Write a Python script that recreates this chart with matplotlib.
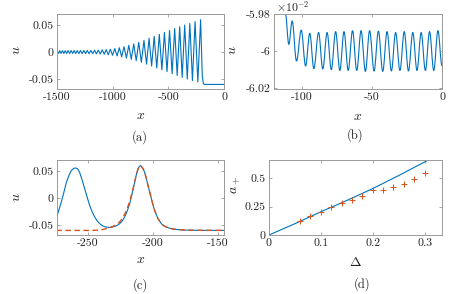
import matplotlib as mpl
mpl.use('Agg')
import matplotlib.pyplot as plt
from matplotlib.path import Path
from matplotlib.patches import PathPatch
import numpy as np

# (a) dispersive wave train: peak crests and troughs (left to right)
a_peak_x = [-1500, -1476, -1451, -1426, -1400, -1373, -1346, -1318, -1289, -1259, -1228, -1196,
            -1163, -1129, -1094, -1058, -1021, -981, -940, -898, -855, -811, -766, -719, -673,
            -627, -581, -535, -489, -443, -398, -353, -307, -260, -210]
a_peak_u = [0.0025, 0.0025, 0.0026, 0.0026, 0.0027, 0.0027, 0.0028, 0.0028, 0.0029, 0.0029, 0.0030, 0.0030,
            0.0033, 0.0036, 0.0040, 0.0045, 0.0052, 0.0065, 0.0080, 0.0100, 0.0125, 0.0150, 0.0180, 0.0215, 0.0255,
            0.0290, 0.0330, 0.0365, 0.0400, 0.0435, 0.0470, 0.0500, 0.0530, 0.0565, 0.0600]
a_trough_u = [-0.0025, -0.0025, -0.0026, -0.0026, -0.0027, -0.0027, -0.0028, -0.0028, -0.0029, -0.0029, -0.0030,
              -0.0031, -0.0033, -0.0037, -0.0042, -0.0050, -0.0060, -0.0072, -0.0090, -0.0110, -0.0135, -0.0160, -0.0190,
              -0.0225, -0.0260, -0.0295, -0.0330, -0.0365, -0.0400, -0.0435, -0.0470, -0.0500, -0.0530, -0.0555]
a_tail_x = [-195, -185, -175, 0]
a_tail_u = [-0.045, -0.0585, -0.0600, -0.0600]

# (b) zoom of the tail, u in units of 1e-2 (successive crests and troughs)
b_x = [-113.0, -112.0, -109.6, -107.2, -104.1, -100.7, -97.6, -94.6, -91.7, -88.3, -85.3, -82.2, -79.2,
       -76.1, -73.1, -70.1, -67.1, -64.0, -61.0, -57.9, -54.8, -51.8, -48.6, -45.5, -42.4, -39.3,
       -36.2, -33.2, -30.1, -27.0, -24.0, -20.9, -17.9, -14.9, -11.9, -8.9, -5.9, -2.9, 0.0]
b_u = [-5.970, -5.980, -5.9964, -5.9838, -6.0054, -5.9887, -6.0081, -5.9904, -6.0095, -5.9900, -6.0097,
       -5.9900, -6.0100, -5.9895, -6.0105, -5.9895, -6.0105, -5.9890, -6.0105, -5.9890, -6.0110, -5.9890,
       -6.0108, -5.9892, -6.0110, -5.9895, -6.0108, -5.9900, -6.0105, -5.9895, -6.0108, -5.9900, -6.0105,
       -5.9900, -6.0105, -5.9895, -6.0105, -5.9890, -6.0080]

# (c) two leading solitons (numerics) and the fitted soliton (dashed)
c_x = [-274.3, -272.5, -270.5, -268.5, -266.6, -264.5, -262.8, -261.2, -259.7, -258.0, -256.4, -254.5,
       -252.5, -250.5, -248.7, -246.7, -244.8, -243.0, -241.0, -239.0, -237.2, -235.2, -233.3, -231.4,
       -229.5, -227.5, -225.6, -223.7, -221.8, -219.8, -217.9, -216.0, -214.1, -212.8, -211.5, -210.5,
       -209.7, -208.9, -207.6, -206.4, -205.1, -203.8, -202.5, -201.2, -200.0, -198.7, -197.4, -196.2,
       -193.6, -191.6, -189.7, -187.7, -185.8, -183.3, -180.8, -177.5, -174.3, -165.0, -145.0]
c_u = [-0.0370, -0.0230, -0.0074, 0.0110, 0.0296, 0.0430, 0.0513, 0.0550, 0.0563, 0.0548, 0.0480, 0.0340,
       0.0174, 0.0010, -0.0135, -0.0260, -0.0350, -0.0420, -0.0474, -0.0510, -0.0530, -0.0540, -0.0543, -0.0538,
       -0.0524, -0.0505, -0.0474, -0.0425, -0.0350, -0.0240, -0.0104, 0.0090, 0.0296, 0.0440, 0.0544, 0.0590,
       0.0605, 0.0590, 0.0545, 0.0480, 0.0365, 0.0235, 0.0110, -0.0011, -0.0125, -0.0228, -0.0310, -0.0380,
       -0.0474, -0.0515, -0.0537, -0.0555, -0.0567, -0.0578, -0.0585, -0.0590, -0.0594, -0.0598, -0.0600]
c_fit_x = [-274.3, -250.0, -244.0, -240.0, -236.0, -232.0, -229.5, -227.5, -225.6, -223.7, -221.8, -219.8,
           -217.9, -216.0, -214.1, -212.8, -211.5, -210.5, -209.7, -208.9, -207.6, -206.4, -205.1, -203.8,
           -202.5, -201.2, -200.0, -198.7, -197.4, -196.2, -193.6, -191.6, -189.7, -187.7, -185.8, -183.3,
           -180.8, -177.5, -174.3, -165.0, -145.0]
c_fit_u = [-0.0600, -0.0600, -0.0597, -0.0590, -0.0567, -0.0537, -0.0510, -0.0480, -0.0440, -0.0380, -0.0300,
           -0.0190, -0.0060, 0.0110, 0.0300, 0.0440, 0.0544, 0.0590, 0.0605, 0.0590, 0.0545, 0.0480, 0.0365,
           0.0235, 0.0110, -0.0011, -0.0125, -0.0228, -0.0310, -0.0380, -0.0474, -0.0515, -0.0537, -0.0555,
           -0.0567, -0.0578, -0.0585, -0.0590, -0.0594, -0.0598, -0.0600]

# (d) leading amplitude a+ versus Delta: theory (line) and numerics (+)
d_theory_delta = [0.0, 0.05, 0.10, 0.15, 0.20, 0.25, 0.30, 0.32]
d_theory_a = [0.0, 0.100, 0.205, 0.305, 0.410, 0.525, 0.645, 0.695]
d_num_delta = [0.06, 0.08, 0.10, 0.12, 0.14, 0.16, 0.18, 0.20, 0.22, 0.24, 0.26, 0.28, 0.30]
d_num_a = [0.120, 0.164, 0.203, 0.247, 0.285, 0.312, 0.344, 0.400, 0.400, 0.420, 0.450, 0.497, 0.544]

# tick positions and labels
a_xticks, a_xlabels = [-1500, -1000, -500, 0], ['-1500', '-1000', '-500', '0']
u_ticks, u_labels = [-0.05, 0, 0.05], ['-0.05', '0', '0.05']
b_xticks, b_xlabels = [-100, -50, 0], ['-100', '-50', '0']
b_yticks, b_ylabels = [-6.02, -6.0, -5.98], ['-6.02', '-6', '-5.98']
c_xticks, c_xlabels = [-250, -200, -150], ['-250', '-200', '-150']
d_xticks, d_xlabels = [0, 0.1, 0.2, 0.3], ['0', '0.1', '0.2', '0.3']
d_yticks, d_ylabels = [0, 0.25, 0.5], ['0', '0.25', '0.5']

blue = '#0072BD'
orange = '#D95319'

plt.rcParams['font.family'] = 'serif'
plt.rcParams['font.serif'] = ['cmr10']
plt.rcParams['mathtext.fontset'] = 'cm'
plt.rcParams['axes.unicode_minus'] = False


# MATLAB-like box axes: gray frame, inward ticks on all four sides
def style_axes(ax, xticks, xlabels, yticks, ylabels):
	for s in ax.spines.values():
		s.set_color('#9a9a9a')
		s.set_linewidth(0.7)
	ax.tick_params(direction='in', length=2.2, width=0.6, color='#9a9a9a', labelcolor='#222222',
				   top=True, right=True, labelsize=8.5, pad=2.5)
	ax.set_xticks(xticks)
	ax.set_xticklabels(xlabels)
	ax.set_yticks(yticks)
	ax.set_yticklabels(ylabels)


def put_labels(ax, xl, yl, xpos, ypos):
	ax.set_xlabel(xl, fontsize=10, color='#222222')
	ax.set_ylabel(yl, fontsize=10, color='#222222')
	ax.xaxis.set_label_coords(*xpos)
	ax.yaxis.set_label_coords(*ypos)
	ax.xaxis.label.set_va('center')
	ax.yaxis.label.set_va('center')


# join successive extrema by cubic Bezier pieces with flat tangents (rounded crests)
def smooth_extrema_path(xs, us, k=0.36):
	verts = [(xs[0], us[0])]
	codes = [Path.MOVETO]
	for i in range(1, len(xs)):
		dx = xs[i] - xs[i - 1]
		verts += [(xs[i - 1] + k * dx, us[i - 1]), (xs[i] - k * dx, us[i]), (xs[i], us[i])]
		codes += [Path.CURVE4] * 3
	return Path(verts, codes)


W, H = 475.0, 294.0
fig = plt.figure(figsize=(4.75, 2.94), dpi=100)


def px_axes(left, top, right, bottom):
	return fig.add_axes([left / W, 1 - bottom / H, (right - left) / W, (bottom - top) / H])


# (a)
ax = px_axes(57, 14, 224, 89)
a_x, a_u = [], []
for i in range(len(a_peak_x)):
	a_x.append(a_peak_x[i])
	a_u.append(a_peak_u[i])
	if i < len(a_trough_u):
		a_x.append(0.5 * (a_peak_x[i] + a_peak_x[i + 1]))
		a_u.append(a_trough_u[i])
a_x += a_tail_x
a_u += a_tail_u
ax.plot(a_x, a_u, color=blue, lw=0.8)
ax.set_xlim(-1500, 0)
ax.set_ylim(-0.0685, 0.0705)
style_axes(ax, a_xticks, a_xlabels, u_ticks, u_labels)
put_labels(ax, '$x$', '$u$', (0.5, -0.36), (-0.241, 0.52))

# (b)
ax = px_axes(274, 14, 442, 89)
ax.add_patch(PathPatch(smooth_extrema_path(b_x[1:], b_u[1:]), fill=False, edgecolor=blue, lw=0.8))
ax.plot(b_x[:2], b_u[:2], color=blue, lw=0.8)
ax.set_xlim(-120.2, 0)
ax.set_ylim(-6.0205, -5.98)
style_axes(ax, b_xticks, b_xlabels, b_yticks, b_ylabels)
put_labels(ax, '$x$', '$u$', (0.5, -0.37), (-0.244, 0.52))
fig.text(276 / W, 1 - 7 / H, r'$\times10^{-2}$', fontsize=8.5, va='center', ha='left', color='#222222')

# (c)
ax = px_axes(57, 160, 224, 235)
ax.plot(c_x, c_u, color=blue, lw=0.8)
ax.plot(c_fit_x, c_fit_u, color=orange, lw=1.0, ls=(0, (4, 2.5)))
ax.set_xlim(-273.8, -145.4)
ax.set_ylim(-0.0685, 0.071)
style_axes(ax, c_xticks, c_xlabels, u_ticks, u_labels)
put_labels(ax, '$x$', '$u$', (0.5, -0.337), (-0.241, 0.507))

# (d)
ax = px_axes(269, 160, 442, 235)
ax.plot(d_theory_delta, d_theory_a, color=blue, lw=0.8)
ax.plot(d_num_delta, d_num_a, ls='none', marker='+', ms=5, mew=0.7, color=orange)
ax.set_xlim(0, 0.3336)
ax.set_ylim(0, 0.6625)
style_axes(ax, d_xticks, d_xlabels, d_yticks, d_ylabels)
put_labels(ax, r'$\Delta$', '$a_+$', (0.497, -0.36), (-0.185, 0.667))

# subfigure captions
for lab, cx, cy in [('(a)', 140, 136.7), ('(b)', 355, 135), ('(c)', 140, 284.7), ('(d)', 362, 283.7)]:
	fig.text(cx / W, 1 - cy / H, lab, fontsize=9, ha='center', va='center', color='#222222')

fig.savefig('out.png', dpi=100)
plt.close('all')
